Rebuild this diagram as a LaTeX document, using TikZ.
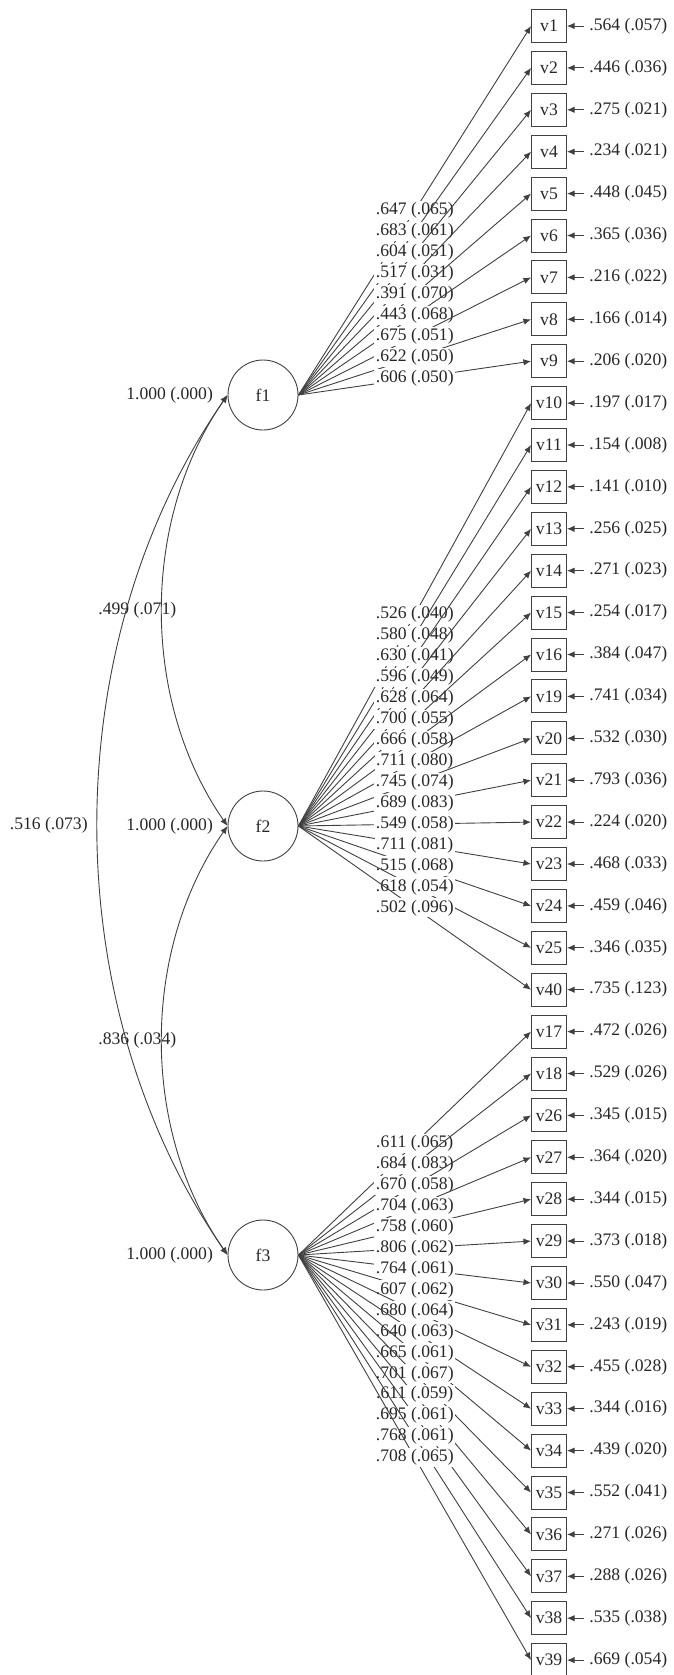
\documentclass[tikz,border=0pt]{standalone}
\usepackage{fontspec}
\setmainfont{Liberation Serif}
\usetikzlibrary{arrows.meta}

\tikzset{
  latent/.style={circle, draw=black!75, minimum size=35pt, inner sep=0pt},
  manifest/.style={rectangle, draw=black!75, minimum width=17.5pt, minimum height=16.5pt, inner sep=0pt},
  est/.style={fill=white, inner sep=0.8pt},
  resid/.style={anchor=west, inner sep=2.5pt},
}

\begin{document}
\begin{tikzpicture}[x=0.5pt, y=-0.5pt, >={Latex[length=3.8pt,width=3.2pt]}, line width=0.45pt, draw=black!75,
    every node/.style={text=black!85, font=\fontsize{8.8}{10}\selectfont}]
  \useasboundingbox (0,0) rectangle (674,1675);

  % factors
  \node[latent] (f1) at (263,395) {f1};
  \node[latent] (f2) at (263,826) {f2};
  \node[latent] (f3) at (263,1255) {f3};
  \node[anchor=east] (s1) at (220,395) {1.000 (.000)};
  \node[anchor=east] (s2) at (220,826) {1.000 (.000)};
  \node[anchor=east] (s3) at (220,1255) {1.000 (.000)};

  % indicators and residual variances
  \foreach \vn/\res [count=\i] in {1/{.564 (.057)}, 2/{.446 (.036)}, 3/{.275 (.021)}, 4/{.234 (.021)},
      5/{.448 (.045)}, 6/{.365 (.036)}, 7/{.216 (.022)}, 8/{.166 (.014)}, 9/{.206 (.020)},
      10/{.197 (.017)}, 11/{.154 (.008)}, 12/{.141 (.010)}, 13/{.256 (.025)}, 14/{.271 (.023)},
      15/{.254 (.017)}, 16/{.384 (.047)}, 19/{.741 (.034)}, 20/{.532 (.030)}, 21/{.793 (.036)},
      22/{.224 (.020)}, 23/{.468 (.033)}, 24/{.459 (.046)}, 25/{.346 (.035)}, 40/{.735 (.123)},
      17/{.472 (.026)}, 18/{.529 (.026)}, 26/{.345 (.015)}, 27/{.364 (.020)}, 28/{.344 (.015)},
      29/{.373 (.018)}, 30/{.550 (.047)}, 31/{.243 (.019)}, 32/{.455 (.028)}, 33/{.344 (.016)},
      34/{.439 (.020)}, 35/{.552 (.041)}, 36/{.271 (.026)}, 37/{.288 (.026)}, 38/{.535 (.038)},
      39/{.669 (.054)}} {
    \node[manifest] (v\vn) at (549,{26+(\i-1)*41.9}) {v\vn};
    \node[resid] (e\vn) at (584,{26+(\i-1)*41.9}) {\res};
    \draw[->] (e\vn.west) -- (v\vn.east);
  }

  % loadings
  \foreach \vn/\lam in {1/{.647 (.065)}, 2/{.683 (.061)}, 3/{.604 (.051)}, 4/{.517 (.031)},
      5/{.391 (.070)}, 6/{.443 (.068)}, 7/{.675 (.051)}, 8/{.622 (.050)}, 9/{.606 (.050)}}
    \draw[->] (f1.east) -- node[est] {\lam} (v\vn.west);
  \foreach \vn/\lam in {10/{.526 (.040)}, 11/{.580 (.048)}, 12/{.630 (.041)}, 13/{.596 (.049)},
      14/{.628 (.064)}, 15/{.700 (.055)}, 16/{.666 (.058)}, 19/{.711 (.080)}, 20/{.745 (.074)},
      21/{.689 (.083)}, 22/{.549 (.058)}, 23/{.711 (.081)}, 24/{.515 (.068)}, 25/{.618 (.054)},
      40/{.502 (.096)}}
    \draw[->] (f2.east) -- node[est] {\lam} (v\vn.west);
  \foreach \vn/\lam in {17/{.611 (.065)}, 18/{.684 (.083)}, 26/{.670 (.058)}, 27/{.704 (.063)},
      28/{.758 (.060)}, 29/{.806 (.062)}, 30/{.764 (.061)}, 31/{.607 (.062)}, 32/{.680 (.064)},
      33/{.640 (.063)}, 34/{.665 (.061)}, 35/{.701 (.067)}, 36/{.611 (.059)}, 37/{.695 (.061)},
      38/{.768 (.061)}, 39/{.708 (.065)}}
    \draw[->] (f3.east) -- node[est] {\lam} (v\vn.west);

  % factor covariances
  \draw[<->] (f1.west) .. controls +(-87,125) and +(-87,-125) .. node[xshift=-12.5pt] (c12) {.499 (.071)} (f2.west);
  \draw[<->] (f2.west) .. controls +(-87,125) and +(-87,-125) .. node[xshift=-12.5pt] (c23) {.836 (.034)} (f3.west);
  \draw[<->] (f1.west) .. controls +(-173,250) and +(-173,-250) .. node[xshift=-24.5pt] (c13) {.516 (.073)} (f3.west);
\end{tikzpicture}
\end{document}
